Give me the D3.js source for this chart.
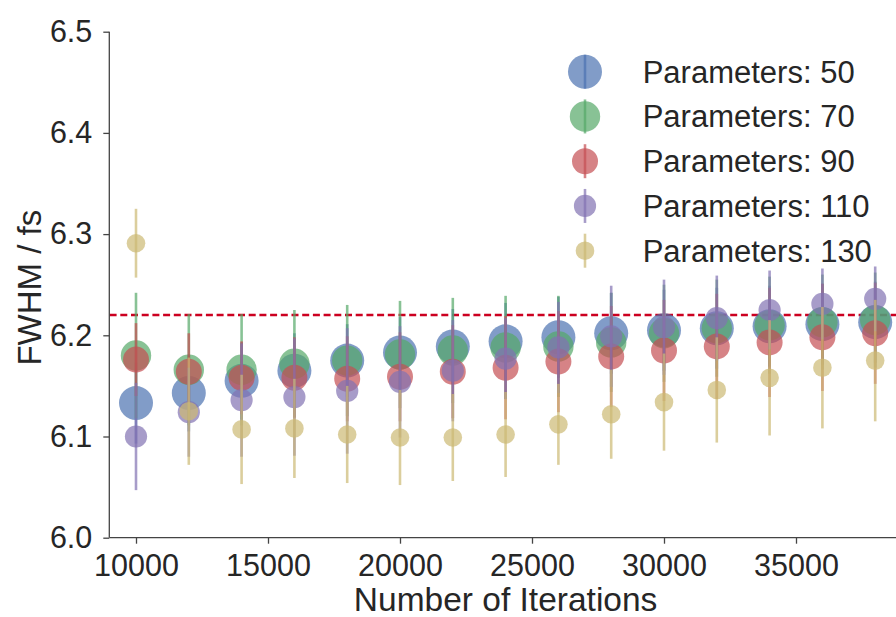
<!DOCTYPE html>
<html>
<head>
<meta charset="utf-8">
<script src="https://cdn.jsdelivr.net/npm/d3@7/dist/d3.min.js"></script>
<style>
  html, body { margin: 0; padding: 0; background: #fff; }
  svg { display: block; font-family: "Liberation Sans", Arial, Helvetica, sans-serif; }
</style>
</head>
<body>
<svg id="chart" width="896" height="617"></svg>
<script>
// Iteration counts (x positions)
const iterations = [10000, 12000, 14000, 16000, 18000, 20000, 22000, 24000, 26000, 28000, 30000, 32000, 34000, 36000, 38000];

// Series labels and colours
const seriesNames = ["Parameters: 50", "Parameters: 70", "Parameters: 90", "Parameters: 110", "Parameters: 130"];
const seriesColors = ["#4C72B0", "#55A868", "#C44E52", "#8172B2", "#CCB974"];

// Mean FWHM per series
const fwhm50  = [6.133, 6.143, 6.155, 6.165, 6.175, 6.183, 6.189, 6.194, 6.198, 6.202, 6.205, 6.207, 6.209, 6.211, 6.213];
const fwhm70  = [6.180, 6.166, 6.166, 6.172, 6.175, 6.181, 6.185, 6.188, 6.189, 6.193, 6.202, 6.207, 6.210, 6.213, 6.215];
const fwhm90  = [6.176, 6.164, 6.158, 6.158, 6.157, 6.159, 6.164, 6.168, 6.174, 6.179, 6.185, 6.189, 6.193, 6.198, 6.202];
const fwhm110 = [6.100, 6.124, 6.136, 6.139, 6.145, 6.154, 6.165, 6.177, 6.188, 6.199, 6.208, 6.217, 6.225, 6.231, 6.236];
const fwhm130 = [6.291, 6.125, 6.107, 6.108, 6.102, 6.099, 6.099, 6.102, 6.112, 6.122, 6.134, 6.146, 6.158, 6.168, 6.175];

// Error (half-length of each bar) per series
const err50  = [0.040, 0.038, 0.038, 0.037, 0.036, 0.035, 0.037, 0.038, 0.040, 0.040, 0.040, 0.040, 0.040, 0.040, 0.040];
const err70  = [0.062, 0.055, 0.055, 0.053, 0.055, 0.053, 0.052, 0.051, 0.050, 0.049, 0.048, 0.048, 0.048, 0.047, 0.047];
const err90  = [0.036, 0.038, 0.036, 0.040, 0.042, 0.044, 0.046, 0.051, 0.050, 0.050, 0.050, 0.052, 0.054, 0.053, 0.050];
const err110 = [0.053, 0.044, 0.056, 0.058, 0.062, 0.055, 0.050, 0.040, 0.045, 0.050, 0.047, 0.042, 0.039, 0.035, 0.032];
const err130 = [0.034, 0.053, 0.054, 0.049, 0.048, 0.047, 0.043, 0.042, 0.040, 0.044, 0.048, 0.052, 0.057, 0.060, 0.060];

// Marker radii per series
const markerRadius = [17, 15.2, 13, 11.1, 9.3];

// Reference FWHM level
const referenceLevel = 6.22;

// Axis ticks
const xTicks = [10000, 15000, 20000, 25000, 30000, 35000];
const yTicks = [6.0, 6.1, 6.2, 6.3, 6.4, 6.5];

const means = [fwhm50, fwhm70, fwhm90, fwhm110, fwhm130];
const errs = [err50, err70, err90, err110, err130];

const svg = d3.select("#chart");
const x = d3.scaleLinear().domain([9000, 39000]).range([109.6, 901.6]);
const y = d3.scaleLinear().domain([6.0, 6.5]).range([537.7, 31.7]);

const axisColor = "#444";
const textColor = "#262626";

// Reference dashed line
svg.append("line")
  .attr("x1", x(9000)).attr("x2", x(39000))
  .attr("y1", y(referenceLevel)).attr("y2", y(referenceLevel))
  .attr("stroke", "#cc0020")
  .attr("stroke-width", 2.6)
  .attr("stroke-dasharray", "7,3.7");

// Series: error bars then markers, in order
means.forEach((vals, s) => {
  const g = svg.append("g");
  const color = seriesColors[s];
  g.selectAll("line.err")
    .data(iterations.map((it, i) => ({ it, v: vals[i], e: errs[s][i] })))
    .join("line")
    .attr("class", "err")
    .attr("x1", d => x(d.it)).attr("x2", d => x(d.it))
    .attr("y1", d => y(d.v - d.e)).attr("y2", d => y(d.v + d.e))
    .attr("stroke", color)
    .attr("stroke-opacity", 0.7)
    .attr("stroke-width", 2.6);
  g.selectAll("circle")
    .data(iterations.map((it, i) => ({ it, v: vals[i] })))
    .join("circle")
    .attr("cx", d => x(d.it))
    .attr("cy", d => y(d.v))
    .attr("r", markerRadius[s])
    .attr("fill", color)
    .attr("fill-opacity", 0.7);
});

// Axes
const yAxis = d3.axisLeft(y).tickValues(yTicks).tickFormat(d3.format(".1f")).tickSize(6).tickPadding(11);
const xAxis = d3.axisBottom(x).tickValues(xTicks).tickFormat(d3.format("d")).tickSize(6).tickPadding(11);

const gy = svg.append("g").attr("transform", "translate(109.3,0)").call(yAxis);
const gx = svg.append("g").attr("transform", "translate(0,537.7)").call(xAxis);

[gx, gy].forEach(g => {
  g.select(".domain").attr("stroke", axisColor).attr("stroke-width", 1.3);
  g.selectAll(".tick line").attr("stroke", axisColor).attr("stroke-width", 1.3);
  g.selectAll(".tick text")
    .attr("fill", textColor)
    .style("font-size", "30.5px")
    .style("font-family", "'Liberation Sans', Arial, sans-serif");
});
// axis lines without outer ticks
gy.select(".domain").attr("d", `M0,${y(6.5)}V${y(6.0)}`);
gx.select(".domain").attr("d", `M${x(9000)},0H${x(39000)}`);

// Axis titles
svg.append("text")
  .attr("x", (x(9000) + x(39000)) / 2)
  .attr("y", 611)
  .attr("text-anchor", "middle")
  .attr("fill", textColor)
  .style("font-size", "33.5px")
  .text("Number of Iterations");

svg.append("text")
  .attr("transform", `translate(40.5,${(y(6.0) + y(6.5)) / 2 + 3}) rotate(-90)`)
  .attr("text-anchor", "middle")
  .attr("fill", textColor)
  .style("font-size", "33px")
  .text("FWHM / fs");

// Legend
const legend = svg.append("g");
seriesNames.forEach((name, s) => {
  const cy = 71.7 + s * 44.75;
  legend.append("line")
    .attr("x1", 585).attr("x2", 585)
    .attr("y1", cy - 17).attr("y2", cy + 17)
    .attr("stroke", seriesColors[s])
    .attr("stroke-opacity", 0.7)
    .attr("stroke-width", 2.6);
  legend.append("circle")
    .attr("cx", 585).attr("cy", cy)
    .attr("r", markerRadius[s])
    .attr("fill", seriesColors[s])
    .attr("fill-opacity", 0.7);
  legend.append("text")
    .attr("x", 642.7)
    .attr("y", cy + 10.9)
    .attr("fill", textColor)
    .style("font-size", "31px")
    .text(name);
});
</script>
</body>
</html>
